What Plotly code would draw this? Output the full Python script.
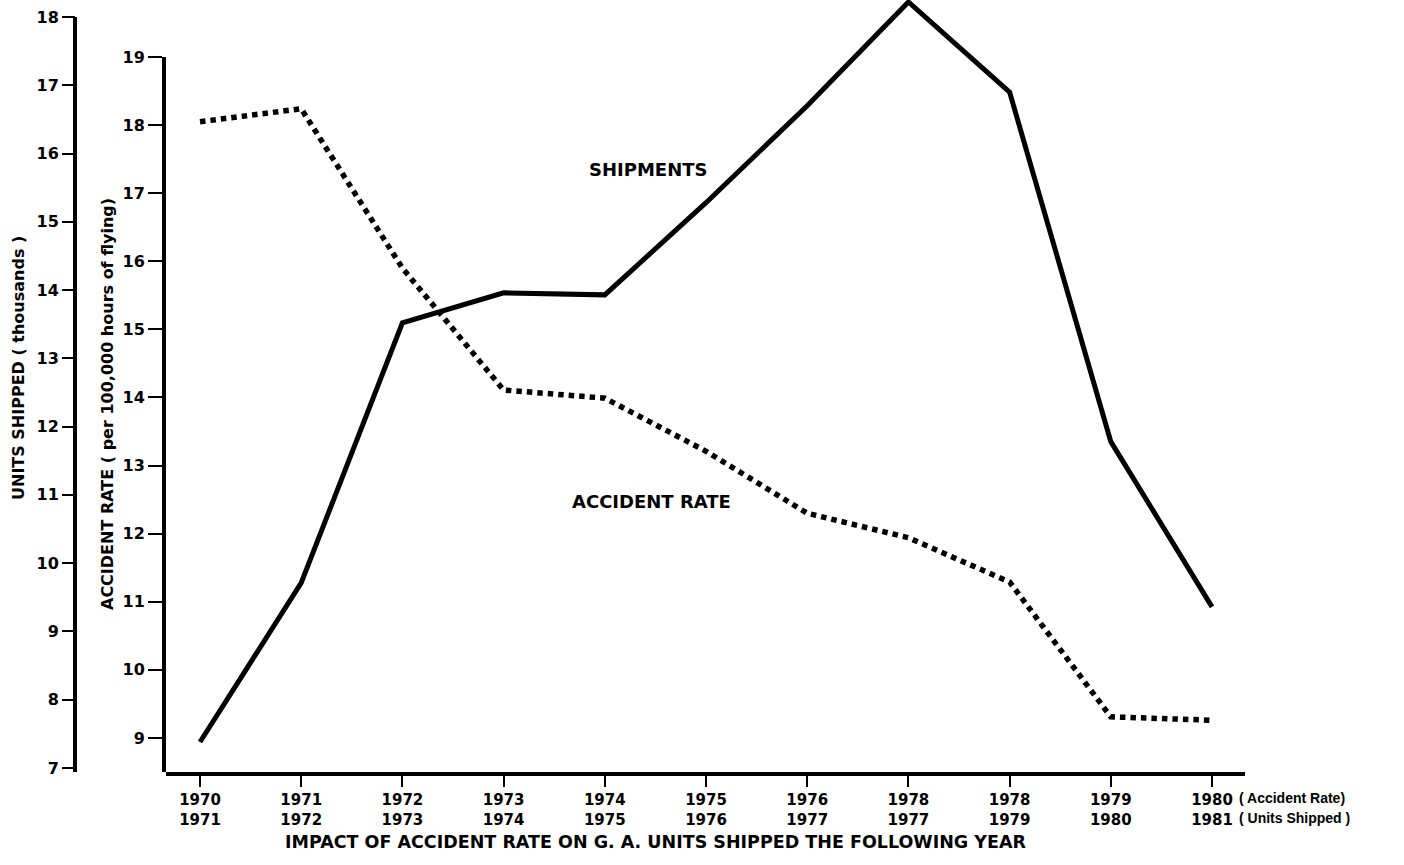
import plotly.graph_objects as go

# ---- data ----
periods = ["1970<br>1971", "1971<br>1972", "1972<br>1973", "1973<br>1974", "1974<br>1975",
           "1975<br>1976", "1976<br>1977", "1978<br>1977", "1978<br>1979", "1979<br>1980",
           "1980<br>1981"]
units_shipped = [7.38, 9.71, 13.52, 13.96, 13.93, 15.28, 16.70, 18.22, 16.90, 11.78, 9.36]
accident_rate = [18.05, 18.24, 15.90, 14.11, 13.99, 13.21, 12.30, 11.94, 11.29, 9.31, 9.26]
units_ticks = list(range(7, 19))
rate_ticks = list(range(9, 20))

# ---- layout geometry ----
W, H = 1404, 865
L, R, T, B = 75, 159, 0, 93
plot_w = W - L - R
plot_h = H - T - B
inner_axis_px = 166
x_domain = [(inner_axis_px - L) / plot_w, 1.0]
y2_top = (plot_h - 57) / plot_h

FONT = "DejaVu Sans"
BLACK = "#000000"


def px_x(p):
    return (p - L) / plot_w


def px_y(p):
    return (plot_h + T - p) / plot_h


fig = go.Figure()
fig.add_trace(go.Scatter(
    x=periods, y=units_shipped, xaxis="x", yaxis="y", mode="lines",
    line=dict(color=BLACK, width=5), name="SHIPMENTS", showlegend=False))
fig.add_trace(go.Scatter(
    x=periods, y=accident_rate, xaxis="x", yaxis="y2", mode="lines",
    line=dict(color=BLACK, width=5.5, dash="5.5px,5px"), name="ACCIDENT RATE",
    showlegend=False))

tickfont_y = dict(family=FONT, size=16, color=BLACK, weight="bold")
tickfont_x = dict(family=FONT, size=15, color=BLACK, weight="bold")

fig.update_layout(
    width=W, height=H,
    margin=dict(l=L, r=R, t=T, b=B, pad=0, autoexpand=False),
    paper_bgcolor="white", plot_bgcolor="rgba(0,0,0,0)",
    xaxis=dict(domain=x_domain, anchor="y", type="category", automargin=False,
               range=[-0.336, 10.326], showgrid=False, zeroline=False,
               showline=True, linecolor=BLACK, linewidth=4,
               ticks="outside", ticklen=11, tickwidth=2, tickcolor=BLACK,
               tickfont=tickfont_x),
    yaxis=dict(domain=[0, 1], anchor="free", position=0, side="left", automargin=False,
               range=[6.941, 18.249], tickvals=units_ticks, showgrid=False,
               zeroline=False, showline=False, ticks="outside", ticklen=13,
               tickwidth=2, tickcolor=BLACK, tickfont=tickfont_y),
    yaxis2=dict(domain=[0, y2_top], anchor="x", side="left", automargin=False,
                range=[8.5, 19], tickvals=rate_ticks, showgrid=False,
                zeroline=False, showline=True, linecolor=BLACK, linewidth=4,
                ticks="outside", ticklen=14, tickwidth=2, tickcolor=BLACK,
                tickfont=tickfont_y),
)

# outer axis line (from bottom of plot up to the 18 tick)
fig.add_shape(type="line", xref="paper", yref="y", x0=0, x1=0,
              y0=6.941, y1=units_ticks[-1], line=dict(color=BLACK, width=4))

ann_font = dict(family=FONT, size=18, color=BLACK, weight="bold")
fig.add_annotation(text="SHIPMENTS", xref="x", yref="y", x=4.43, y=15.76,
                   xanchor="center", yanchor="middle",
                   showarrow=False, font=ann_font)
fig.add_annotation(text="ACCIDENT RATE", xref="x", yref="y2", x=4.46, y=12.47,
                   xanchor="center", yanchor="middle",
                   showarrow=False, font=ann_font)

title_font = dict(family=FONT, size=16, color=BLACK, weight="bold")
fig.add_annotation(text="UNITS SHIPPED ( thousands )", xref="paper", yref="paper",
                   x=px_x(18), y=px_y(368), textangle=-90, showarrow=False,
                   xanchor="center", yanchor="middle", font=title_font)
fig.add_annotation(text="ACCIDENT RATE ( per 100,000 hours of flying)", xref="paper",
                   yref="paper", x=px_x(107), y=px_y(404), textangle=-90,
                   xanchor="center", yanchor="middle",
                   showarrow=False, font=title_font)
fig.add_annotation(text="IMPACT OF ACCIDENT RATE ON G. A. UNITS SHIPPED THE FOLLOWING YEAR",
                   xref="paper", yref="paper", x=px_x(655), y=px_y(842),
                   xanchor="center", yanchor="middle",
                   showarrow=False, font=dict(family=FONT, size=17.5, color=BLACK,
                                              weight="bold"))

side_font = dict(family="Liberation Sans", size=14, color=BLACK, weight="bold")
fig.add_annotation(text="( Accident Rate)", xref="x", yref="paper", x=periods[-1], y=0,
                   xanchor="left", yanchor="middle", xshift=25, yshift=-26,
                   showarrow=False, font=side_font)
fig.add_annotation(text="( Units Shipped )", xref="x", yref="paper", x=periods[-1], y=0,
                   xanchor="left", yanchor="middle", xshift=25, yshift=-46,
                   showarrow=False, font=side_font)

fig.write_html("out.html", config={"displayModeBar": False},
               post_script="document.body.style.margin='0';document.body.style.padding='0';")
